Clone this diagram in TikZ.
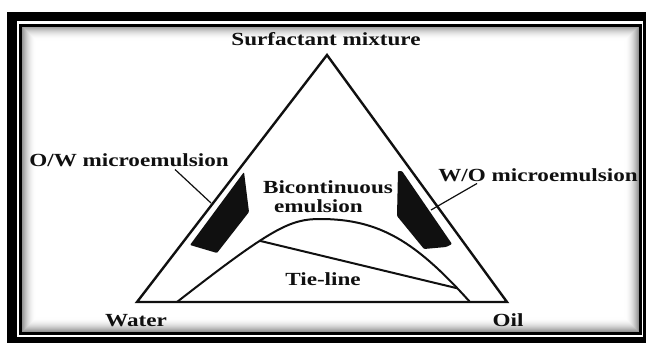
\documentclass[tikz,border=0pt]{standalone}
\usepackage{fontspec}
\setmainfont{Liberation Serif}
\usepackage{tikz}
\definecolor{ink}{HTML}{101010}
\newcommand{\wide}[1]{\scalebox{1.25}[1]{#1}}
\tikzset{
  lbl/.style    ={font=\fontsize{18.5}{20}\selectfont\bfseries,inner sep=0pt,
                  anchor=base,text=ink},
  tri/.style    ={draw=ink,line width=2.4pt,line join=miter},
  binodal/.style={draw=ink,line width=2pt},
  tieln/.style  ={draw=ink,line width=2pt},
  blob/.style   ={fill=ink,rounded corners=1pt},
  lead/.style   ={draw=ink,line width=1.2pt}
}
\begin{document}
\begin{tikzpicture}[x=1pt,y=-1pt]
  \useasboundingbox (0,0) rectangle (646,343);
  % frame
  \fill[black] (7,11.5) rectangle (652,349);
  \fill[white] (16.5,20.7) rectangle (643,337);
  \foreach \i in {0,...,13}{
    \pgfmathsetmacro\shd{42*(1-\i/14)^2}
    \draw[black!\shd,line width=1.1pt] (22.5+\i,27+\i) rectangle (638-\i,331-\i);
  }
  \draw[black,line width=3pt] (20.5,25) rectangle (640,333);
  % triangle
  \coordinate (apex) at (327,55);
  \coordinate (wcor) at (137,302);
  \coordinate (ocor) at (507,302);
  \draw[tri] (apex) -- (wcor) -- (ocor) -- cycle;
  % two-phase boundary and tie-line
  \coordinate (wbase) at (177,302);
  \coordinate (peak) at (320,219);
  \coordinate (obase) at (470,302);
  \coordinate (tieA) at (259.7,240.8);
  \coordinate (tieB) at (457.4,288.3);
  \draw[binodal] (wbase) .. controls (272,228) and (290,219) .. (peak)
                 .. controls (380,219) and (416,242) .. (obase);
  \draw[tieln] (tieA) -- (tieB);
  % microemulsion regions
  \fill[blob] (244,172) -- (249,212) -- (217,253) -- (190,245) -- cycle;
  \fill[blob] (398,171) -- (402,171) -- (452,244) -- (446,247) -- (424,249)
              -- (397,216) -- cycle;
  % labels
  \node[lbl] (surf)  at (326,45)  {\wide{Surfactant mixture}};
  \node[lbl] (ow)    at (129,166) {\wide{O/W microemulsion}};
  \node[lbl] (wo)    at (538,181) {\wide{W/O microemulsion}};
  \node[lbl] (bic)   at (328,193.5) {\wide{Bicontinuous}};
  \node[lbl] (emu)   at (318.5,212.5) {\wide{emulsion}};
  \node[lbl] (tie)   at (323,285) {\wide{Tie-line}};
  \node[lbl] (water) at (136,326) {\wide{Water}};
  \node[lbl] (oil)   at (508,326) {\wide{Oil}};
  % pointers
  \coordinate (owtip) at (211,203);
  \coordinate (wotip) at (431,210);
  \draw[lead] ([xshift=46pt,yshift=-3pt]ow.south) -- (owtip);
  \draw[lead] ([xshift=-61pt,yshift=-2pt]wo.south) -- (wotip);
\end{tikzpicture}
\end{document}
